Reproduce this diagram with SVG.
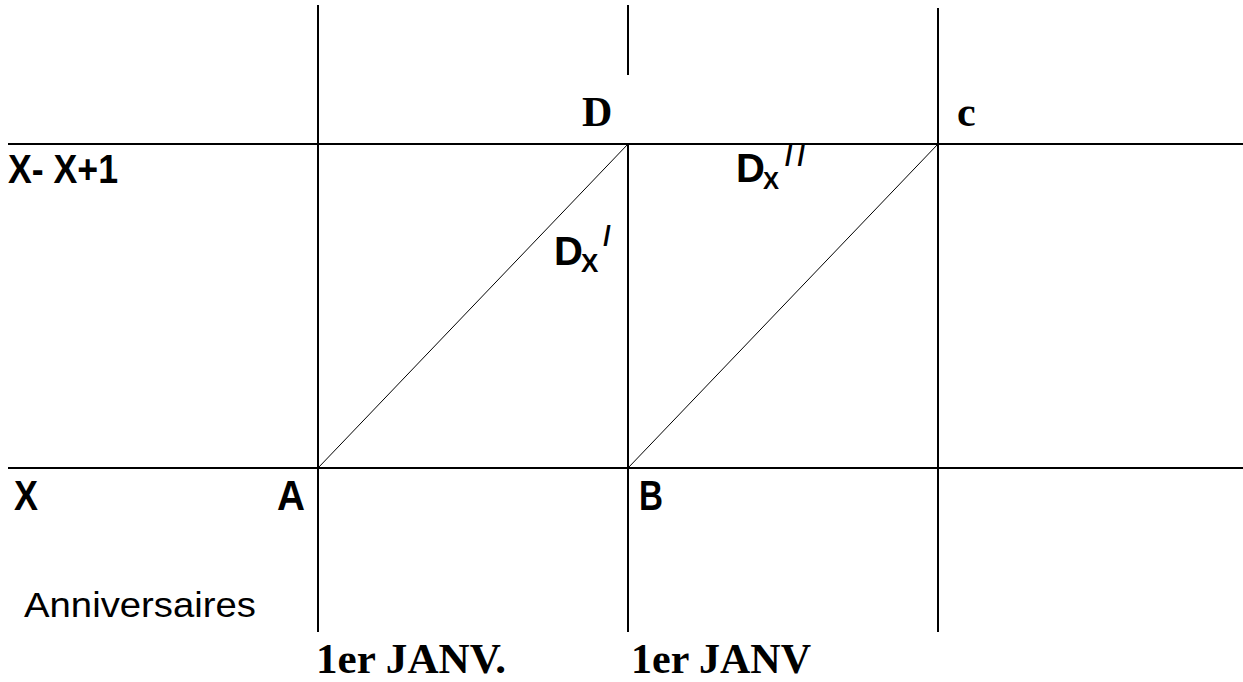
<svg xmlns="http://www.w3.org/2000/svg" width="1243" height="682" viewBox="0 0 1243 682">
<style>
.ln{stroke:#000;stroke-width:2;fill:none}
.dg{stroke:#000;stroke-width:1;fill:none}
.sb{font-family:"Liberation Sans",Arial,sans-serif;font-weight:bold;fill:#000}
.sr{font-family:"Liberation Serif","Times New Roman",serif;font-weight:bold;font-size:42px;fill:#000}
.sn{font-family:"Liberation Sans",Arial,sans-serif;fill:#000}
</style>
<rect width="1243" height="682" fill="#fff"/>
<g id="connectors">
<line class="ln" x1="8" y1="144" x2="1243" y2="144"/>
<line class="ln" x1="8" y1="468" x2="1243" y2="468"/>
<line class="ln" x1="318" y1="5" x2="318" y2="632"/>
<line class="ln" x1="628" y1="5" x2="628" y2="75"/>
<line class="ln" x1="628" y1="144" x2="628" y2="632"/>
<line class="ln" x1="938" y1="8" x2="938" y2="632"/>
<line class="dg" x1="318" y1="468" x2="628" y2="144"/>
<line class="dg" x1="628" y1="468" x2="938" y2="144"/>
</g>
<g id="label-D"><text class="sr" x="582" y="126">D</text></g>
<g id="label-c"><text class="sr" x="957" y="126">c</text></g>
<g id="label-X-X1"><text class="sb" x="8" y="183" font-size="40" textLength="110" lengthAdjust="spacingAndGlyphs">X- X+1</text></g>
<g id="label-Dx1">
<text class="sb" x="554" y="265" font-size="40">D<tspan font-size="26" dx="-2" dy="7">X</tspan><tspan font-size="27" dx="5" dy="-27">/</tspan></text>
</g>
<g id="label-Dx2">
<text class="sb" x="736" y="182" font-size="40">D<tspan font-size="24" dx="-2" dy="7">X</tspan><tspan font-size="27" dx="6" dy="-24" letter-spacing="5">//</tspan></text>
</g>
<g id="label-X"><text class="sb" x="14" y="510" font-size="42" textLength="24" lengthAdjust="spacingAndGlyphs">X</text></g>
<g id="label-A"><text class="sb" x="277" y="510" font-size="42" textLength="28" lengthAdjust="spacingAndGlyphs">A</text></g>
<g id="label-B"><text class="sb" x="639" y="510" font-size="42" textLength="24" lengthAdjust="spacingAndGlyphs">B</text></g>
<g id="label-anniv"><text class="sn" x="24" y="617" font-size="35" textLength="232" lengthAdjust="spacingAndGlyphs">Anniversaires</text></g>
<g id="label-janv1"><text class="sr" x="316" y="673" textLength="190" lengthAdjust="spacingAndGlyphs">1er JANV.</text></g>
<g id="label-janv2"><text class="sr" x="631" y="673" textLength="180" lengthAdjust="spacingAndGlyphs">1er JANV</text></g>
</svg>
